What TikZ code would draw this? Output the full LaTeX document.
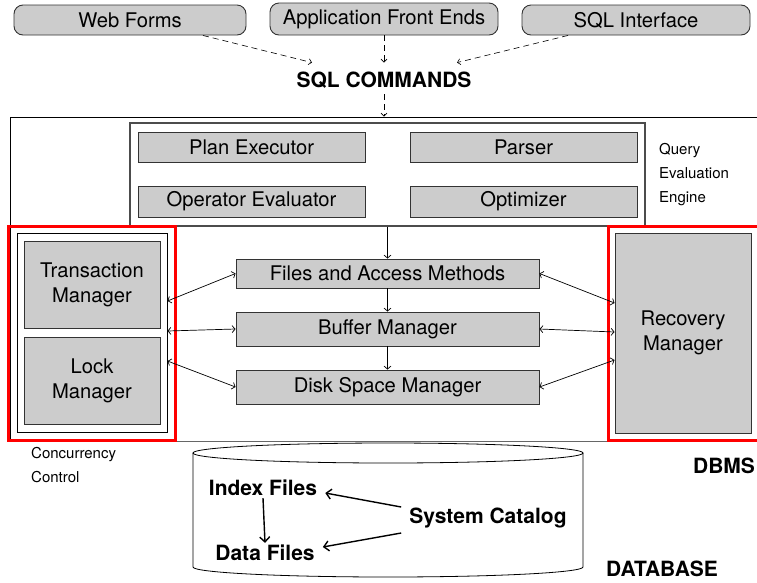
\documentclass[tikz,border=0pt]{standalone}
\usepackage{fontspec}
\setmainfont{TeX Gyre Heros}
\usetikzlibrary{arrows.meta,calc}
\definecolor{boxgray}{HTML}{CCCCCC}
\definecolor{edgegray}{HTML}{333333}
\begin{document}
\begin{tikzpicture}[x=1pt,y=-1pt,
  gbox/.style={draw=edgegray, fill=boxgray, line width=0.9pt, inner sep=0pt, font=\fontsize{20.2}{25}\selectfont, align=center},
  rbox/.style={gbox, rounded corners=9pt},
  lbl/.style={font=\fontsize{15}{24}\selectfont, align=left, inner sep=0pt},
  bold/.style={font=\fontsize{21}{24}\selectfont\bfseries, inner sep=2pt},
  dar/.style={-{Straight Barb[length=3pt,width=6pt]}, dash pattern=on 6pt off 4pt, line width=0.6pt},
  ar/.style={-{Straight Barb[length=3pt,width=7pt]}, line width=0.7pt},
  bar/.style={{Straight Barb[length=3pt,width=7pt]}-{Straight Barb[length=3pt,width=7pt]}, line width=0.7pt},
  tar/.style={-{Straight Barb[length=5pt,width=10pt]}, line width=1.4pt},
  redbox/.style={draw=red, line width=3pt},
]
\useasboundingbox (0,0) rectangle (757,582);

% top sources
\node[rbox, minimum width=232pt, minimum height=30pt] (wf) at (130,20) {Web Forms};
\node[rbox, minimum width=228pt, minimum height=32pt] (afe) at (384,19) {Application Front Ends};
\node[rbox, minimum width=228pt, minimum height=30pt] (sqli) at (636,20) {SQL Interface};
\node[bold] (sqlc) at (384,80) {SQL COMMANDS};

% DBMS frame
\node[draw=black, line width=0.9pt, minimum width=750pt, minimum height=324pt, inner sep=0pt] (dbms) at (385,279) {};
\draw[gray!80!black, line width=1.4pt] (dbms.south west) -- (dbms.south east);

\draw[dar] ([xshift=73pt]wf.south) -- ([xshift=-72pt,yshift=7pt]sqlc.north);
\draw[dar] (afe.south) -- ([yshift=7pt]sqlc.north);
\draw[dar] ([xshift=-68pt]sqli.south) -- ([xshift=73pt,yshift=7pt]sqlc.north);
\draw[dar] ([yshift=-4pt]sqlc.south) -- (dbms.north -| sqlc.south);

% Query evaluation engine
\node[draw=gray!60!black, line width=1.2pt, minimum width=515pt, minimum height=103pt, inner sep=0pt] (qee) at (387.5,174.5) {};
\node[gbox, minimum width=227pt, minimum height=30pt] (pe) at (251.5,147) {Plan Executor};
\node[gbox, minimum width=227pt, minimum height=30pt] (parser) at (523.5,147) {Parser};
\node[gbox, minimum width=227pt, minimum height=31pt] (oe) at (251.5,201.5) {Operator Evaluator};
\node[gbox, minimum width=227pt, minimum height=31pt] (opt) at (523.5,201.5) {Optimizer};
\node[lbl, anchor=west] (qtxt) at (659,175) {Query\\Evaluation\\Engine};

% concurrency control
\draw[redbox] (8.5,226.5) rectangle (175.5,440);
\node[draw=black, fill=white, line width=0.9pt, minimum width=150pt, minimum height=199pt, inner sep=0pt] (cc) at (92,332.5) {};
\node[gbox, minimum width=136pt, minimum height=87pt] (tm) at (92,284.5) {Transaction\\Manager};
\node[gbox, minimum width=136pt, minimum height=87pt] (lm) at (92,380.5) {Lock\\Manager};
\node[lbl, anchor=west] (cctxt) at (31,465) {Concurrency\\Control};

% recovery
\draw[redbox] (608.5,226.5) rectangle (758,440);
\node[gbox, minimum width=136pt, minimum height=200pt] (rm) at (683,333) {Recovery\\Manager};

% storage stack
\node[gbox, minimum width=303pt, minimum height=29pt] (fam) at (387.5,273.5) {Files and Access Methods};
\node[gbox, minimum width=303pt, minimum height=34pt] (bm) at (387.5,329) {Buffer Manager};
\node[gbox, minimum width=303pt, minimum height=34pt] (dsm) at (387.5,387) {Disk Space Manager};

\draw[ar] (qee.south) -- (fam.north);
\draw[ar] (fam.south) -- (bm.north);
\draw[ar] (bm.south) -- (dsm.north);

\draw[bar] ([yshift=31.5pt]cc.east) -- (fam.west);
\draw[bar] ([yshift=1.5pt]cc.east) -- (bm.west);
\draw[bar] ([yshift=-28.5pt]cc.east) -- (dsm.west);
\draw[bar] (fam.east) -- ([yshift=30pt]rm.west);
\draw[bar] (bm.east) -- ([yshift=1pt]rm.west);
\draw[bar] (dsm.east) -- ([yshift=-27pt]rm.west);

\node[bold] (dbmstxt) at (724,466) {DBMS};

% database cylinder
\draw[line width=0.8pt] (388,453) ellipse [x radius=195pt, y radius=10pt];
\draw[line width=0.8pt] (193,453) -- (193,567) arc[start angle=180, end angle=360, x radius=195pt, y radius=10pt] -- (583,453);

\node[bold] (idx) at (263,488) {Index Files};
\node[bold] (dat) at (265,553) {Data Files};
\node[bold] (cat) at (488,518) {System Catalog};
\draw[tar] (idx.south) -- (dat.north);
\draw[tar] ([xshift=-6pt,yshift=11pt]cat.west) -- ([xshift=6pt,yshift=-5pt]idx.east);
\draw[tar] ([xshift=-6pt,yshift=-15pt]cat.west) -- ([xshift=6pt,yshift=6pt]dat.east);

\node[bold] (dbtxt) at (662,569) {DATABASE};
\end{tikzpicture}
\end{document}
